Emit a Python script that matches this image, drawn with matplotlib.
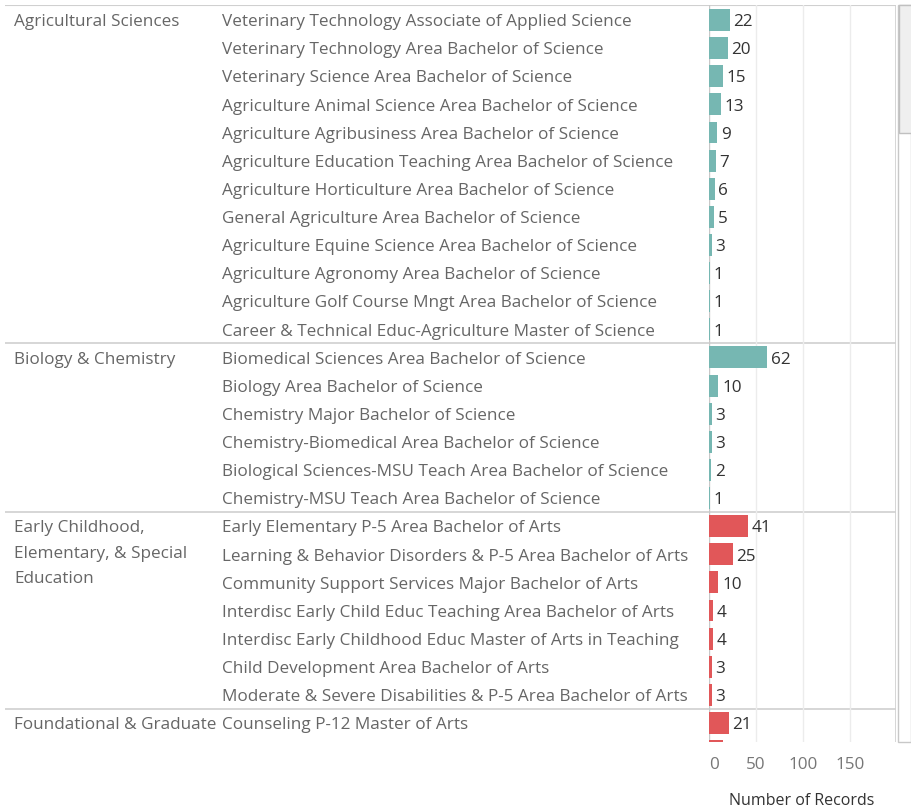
import matplotlib.pyplot as plt
from matplotlib.patches import Rectangle

# dados
groups = ['Agricultural Sciences', 'Biology & Chemistry',
          'Early Childhood,\nElementary, & Special\nEducation',
          'Foundational & Graduate\nStudies in Education']
programs = [
    ['Veterinary Technology Associate of Applied Science',
     'Veterinary Technology Area Bachelor of Science',
     'Veterinary Science Area Bachelor of Science',
     'Agriculture Animal Science Area Bachelor of Science',
     'Agriculture Agribusiness Area Bachelor of Science',
     'Agriculture Education Teaching Area Bachelor of Science',
     'Agriculture Horticulture Area Bachelor of Science',
     'General Agriculture Area Bachelor of Science',
     'Agriculture Equine Science Area Bachelor of Science',
     'Agriculture Agronomy Area Bachelor of Science',
     'Agriculture Golf Course Mngt Area Bachelor of Science',
     'Career & Technical Educ-Agriculture Master of Science'],
    ['Biomedical Sciences Area Bachelor of Science',
     'Biology Area Bachelor of Science',
     'Chemistry Major Bachelor of Science',
     'Chemistry-Biomedical Area Bachelor of Science',
     'Biological Sciences-MSU Teach Area Bachelor of Science',
     'Chemistry-MSU Teach Area Bachelor of Science'],
    ['Early Elementary P-5 Area Bachelor of Arts',
     'Learning & Behavior Disorders & P-5 Area Bachelor of Arts',
     'Community Support Services Major Bachelor of Arts',
     'Interdisc Early Child Educ Teaching Area Bachelor of Arts',
     'Interdisc Early Childhood Educ Master of Arts in Teaching',
     'Child Development Area Bachelor of Arts',
     'Moderate & Severe Disabilities & P-5 Area Bachelor of Arts'],
    ['Counseling P-12 Master of Arts',
     'School Counseling Educational Specialist Master of Arts'],
]
records = [
    [22, 20, 15, 13, 9, 7, 6, 5, 3, 1, 1, 1],
    [62, 10, 3, 3, 2, 1],
    [41, 25, 10, 4, 4, 3, 3],
    [21, 15],
]
colors = ['#76b7b2', '#76b7b2', '#e15759', '#e15759']
xticks = [0, 50, 100, 150]

W, H = 911, 810
fig = plt.figure(figsize=(W / 100, H / 100), dpi=100)
plt.rcParams['font.family'] = ['Open Sans', 'DejaVu Sans']
FS = 12.3
dy = 0.08  # ajuste vertical do texto

top_px, bot_px = 5, 742
row0_px, row_h = 20, 28.12
ylim = (row0_px - top_px) / row_h
ybot = -ylim + (bot_px - top_px) / row_h

def fx(px):
    return px / W

def fy(px):
    return 1 - px / H

# eixo de fundo (rótulos)
ax_lab = fig.add_axes([fx(5), fy(bot_px), fx(896) - fx(5), fy(top_px) - fy(bot_px)])
ax_lab.set_xlim(5, 896)
ax_lab.set_ylim(ybot, -ylim)
ax_lab.axis('off')

# eixo das barras
ax = fig.add_axes([fx(709), fy(bot_px), fx(896) - fx(709), fy(top_px) - fy(bot_px)])
ax.set_ylim(ybot, -ylim)
ax.set_xlim(0, (896 - 709) / 0.94)
ax.patch.set_alpha(0)
for s in ax.spines.values():
    s.set_visible(False)
ax.set_yticks([])
ax.set_xticks(xticks)
ax.set_xticklabels([])
ax.tick_params(axis='x', length=0)
for i, t in enumerate(xticks):
    ax.text(t + (5 / 0.94 if i == 0 else 0), -0.021, str(t), ha='center', va='top',
            fontsize=FS, color='#777777', transform=ax.get_xaxis_transform())
for t in xticks[1:]:
    ax.axvline(t, color='#ececec', lw=1, zorder=0)
ax.axvline(0, color='#c8c8c8', lw=1, zorder=1)
fig.text(fx(802), fy(801), 'Number of Records', ha='center', va='center',
         fontsize=11.5, color='#333333')

row = 0
for g, (gname, progs, vals) in enumerate(zip(groups, programs, records)):
    for k, ln in enumerate(gname.split('\n')):
        ax_lab.text(14, row + dy + k * 0.9, ln, ha='left', va='center', fontsize=FS,
                    color='#666666', clip_on=True)
    for p, v in zip(progs, vals):
        ax_lab.text(222, row + dy, p, ha='left', va='center', fontsize=FS,
                    color='#666666', clip_on=True)
        ax.barh(row, v, height=0.78, color=colors[g], zorder=2)
        ax.text(v + 4, row + dy, str(v), ha='left', va='center', fontsize=FS,
                color='#333333', clip_on=True)
        row += 1
    ax_lab.axhline(row - 0.5, color='#d0d0d0', lw=1.2)

ax_lab.axhline(-ylim, color='#d0d0d0', lw=1.5)
ax_lab.axvline(896, color='#d0d0d0', lw=1.2)

# barra de rolagem
fig.patches.append(Rectangle((fx(898), fy(bot_px)), fx(911) - fx(898), fy(top_px) - fy(bot_px),
                             transform=fig.transFigure, facecolor='white',
                             edgecolor='#c8c8c8', lw=1))
fig.patches.append(Rectangle((fx(899), fy(133)), fx(912) - fx(899), fy(top_px) - fy(133),
                             transform=fig.transFigure, facecolor='#efefef',
                             edgecolor='#c0c0c0', lw=1))

plt.savefig('out.png', dpi=100)
